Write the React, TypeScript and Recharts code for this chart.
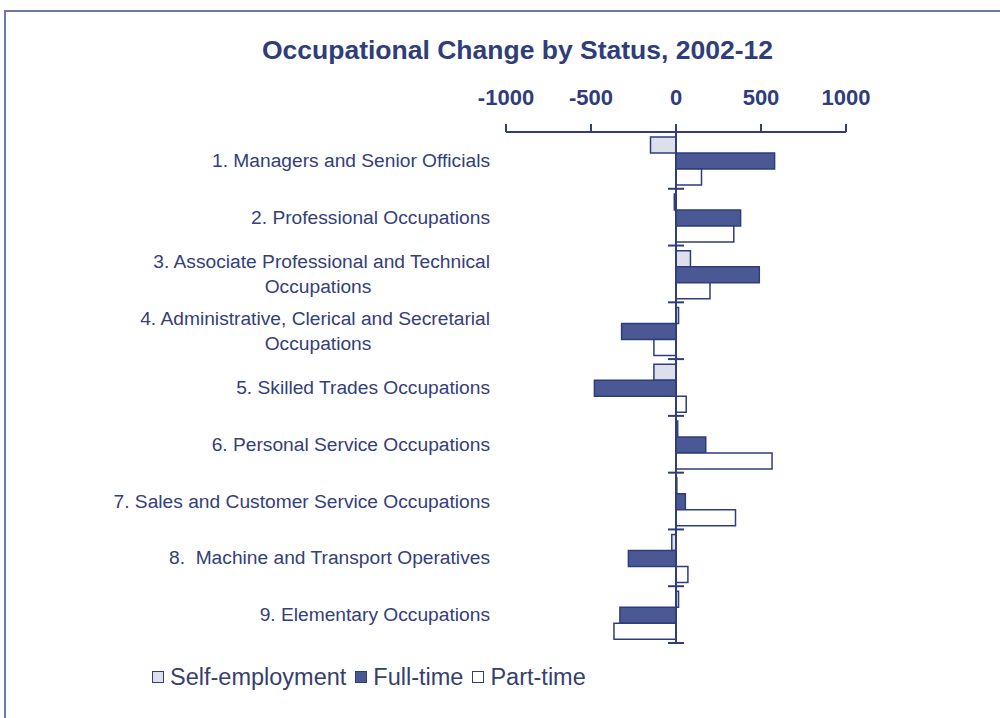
import React from "react";
import { Bar, BarChart, ReferenceLine, XAxis, YAxis } from "recharts";

const categories = [
    "1. Managers and Senior Officials",
    "2. Professional Occupations",
    "3. Associate Professional and Technical\nOccupations",
    "4. Administrative, Clerical and Secretarial\nOccupations",
    "5. Skilled Trades Occupations",
    "6. Personal Service Occupations",
    "7. Sales and Customer Service Occupations",
    "8.  Machine and Transport Operatives",
    "9. Elementary Occupations",
];
const selfEmployment = [-150, -10, 85, 15, -130, 10, 5, -25, 15];
const fullTime = [580, 380, 490, -320, -480, 175, 55, -280, -330];
const partTime = [150, 340, 200, -130, 60, 565, 350, 70, -365];
const xTicks = [-1000, -500, 0, 500, 1000];
const seriesNames = ["Self-employment", "Full-time", "Part-time"];

const data = categories.map((name, i) => ({
    name,
    self: selfEmployment[i],
    full: fullTime[i],
    part: partTime[i],
}));

const NAVY = "#2f3d7c";
const LABEL = "#33407a";
const FONT = "'Liberation Sans', Arial, sans-serif";
const fills = ["#dde0eb", "#4a5994", "#ffffff"];

const W = 1000;
const H = 718;
const margin = { top: 72, right: 154, bottom: 75, left: 490 };
const yAxisWidth = 16;
const plotLeft = margin.left + yAxisWidth;
const plotWidth = W - plotLeft - margin.right;
const plotTop = margin.top + 60;
const plotHeight = H - plotTop - margin.bottom;
const bandSize = plotHeight / categories.length;
const zeroX = plotLeft + plotWidth * (0 - xTicks[0]) / (xTicks[xTicks.length - 1] - xTicks[0]);
const labelSize = 19.2;

const CategoryTick = (props: any) => {
    const { x, y, payload } = props;
    const lines = String(payload.value).split("\n");
    const boundaryY = y + bandSize / 2;
    return (
        <g>
            {lines.length === 1 ? (
                <text x={x} y={y} textAnchor="end" dominantBaseline="central" fill={LABEL}
                      fontSize={labelSize} fontFamily={FONT} style={{ whiteSpace: "pre" }}>
                    {lines[0]}
                </text>
            ) : (
                <>
                    <text x={x} y={y - 12.5} textAnchor="end" dominantBaseline="central" fill={LABEL}
                          fontSize={labelSize} fontFamily={FONT}>
                        {lines[0]}
                    </text>
                    <text x={x - 172} y={y + 12.5} textAnchor="middle" dominantBaseline="central" fill={LABEL}
                          fontSize={labelSize} fontFamily={FONT}>
                        {lines[1]}
                    </text>
                </>
            )}
            <line x1={zeroX - 8} x2={zeroX + 8} y1={boundaryY} y2={boundaryY} stroke={NAVY} strokeWidth={2} />
        </g>
    );
};

export default function App() {
    return (
        <div style={{ position: "absolute", left: 0, top: 0, width: W, height: H, overflow: "hidden", background: "#fff" }}>
            <div style={{
                position: "absolute", left: 4, top: 10, width: W - 6, height: H - 10,
                borderLeft: "2.5px solid #6b79a6", borderTop: "2.5px solid #6b79a6",
            }} />
            <div style={{
                position: "absolute", left: 0, top: 35, width: 1035, textAlign: "center",
                fontFamily: FONT, fontWeight: "bold", fontSize: 26.5, color: NAVY,
            }}>
                Occupational Change by Status, 2002-12
            </div>
            <div style={{ position: "absolute", left: 0, top: 0 }}>
                <BarChart
                    width={W}
                    height={H}
                    layout="vertical"
                    data={data}
                    margin={margin}
                    barCategoryGap="9%"
                    barGap={0}
                >
                    <XAxis
                        type="number"
                        orientation="top"
                        domain={[xTicks[0], xTicks[xTicks.length - 1]]}
                        ticks={xTicks}
                        height={60}
                        tickSize={8}
                        tickMargin={19}
                        axisLine={{ stroke: NAVY, strokeWidth: 2 }}
                        tickLine={{ stroke: NAVY, strokeWidth: 2 }}
                        tick={{ fill: NAVY, fontSize: 22, fontWeight: "bold", fontFamily: FONT }}
                        allowDataOverflow
                    />
                    <YAxis
                        type="category"
                        dataKey="name"
                        width={yAxisWidth}
                        axisLine={false}
                        tickLine={false}
                        tickSize={0}
                        tickMargin={16}
                        interval={0}
                        tick={<CategoryTick />}
                    />
                    <Bar dataKey="self" name={seriesNames[0]} fill={fills[0]} stroke={NAVY} strokeWidth={1.5} isAnimationActive={false} />
                    <Bar dataKey="full" name={seriesNames[1]} fill={fills[1]} stroke={NAVY} strokeWidth={1.5} isAnimationActive={false} />
                    <Bar dataKey="part" name={seriesNames[2]} fill={fills[2]} stroke={NAVY} strokeWidth={1.5} isAnimationActive={false} />
                    <ReferenceLine x={0} stroke={NAVY} strokeWidth={2} />
                </BarChart>
            </div>
            <div style={{
                position: "absolute", left: 152, top: 663, height: 28, display: "flex", alignItems: "center",
                fontFamily: FONT, fontSize: 23.5, color: "#363f70", whiteSpace: "nowrap",
            }}>
                {seriesNames.map((n, i) => (
                    <div key={n} style={{ display: "flex", alignItems: "center", marginRight: 9 }}>
                        <span style={{
                            display: "inline-block", width: 10, height: 10, background: fills[i],
                            border: `1.5px solid ${NAVY}`, marginRight: 6,
                        }} />
                        {n}
                    </div>
                ))}
            </div>
        </div>
    );
}
